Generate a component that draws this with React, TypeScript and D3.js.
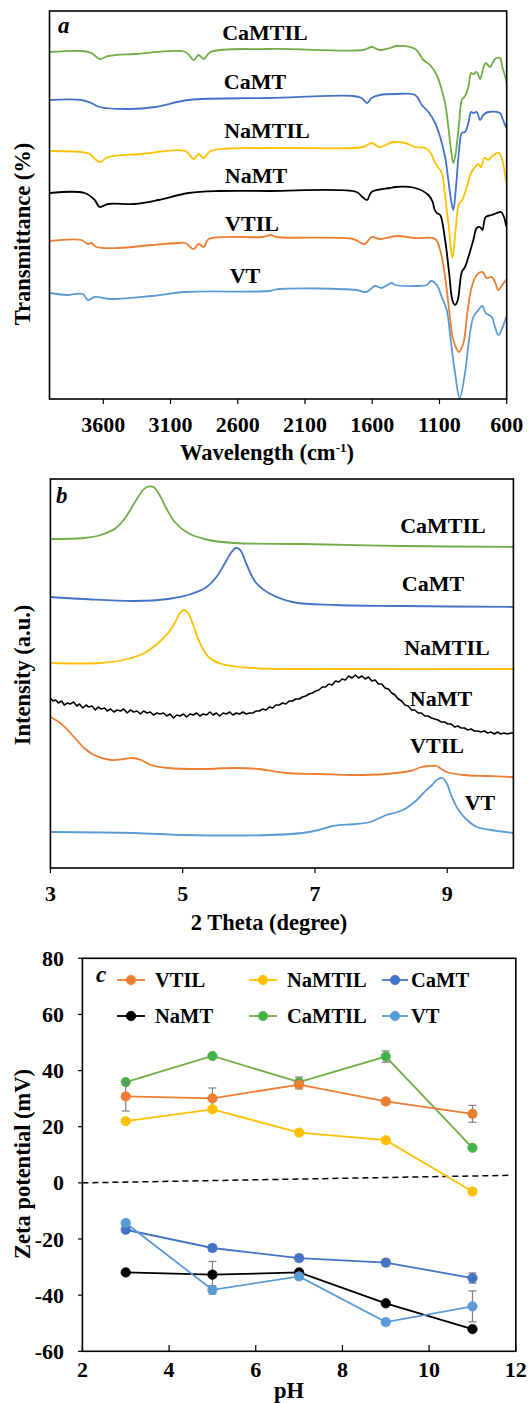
import React from "react";
import * as d3 from "d3";

// ---------- Panel a: FTIR (wavenumber, transmittance a.u.) ----------
const ftirCaMTIL = [[4000,347],[3764,348],[3689,346],[3627,340],[3564,343],[3365,345],[2990,347],[2928,339],[2891,344],[2853,340],[2803,347],[2367,350],[1668,349],[1605,352],[1543,349],[1468,351],[1418,353],[1281,350],[1219,339],[1170,334],[1120,324],[1083,309],[1058,296],[1034,272],[1014,249],[997,236],[979,246],[954,276],[934,299],[910,303],[885,312],[865,326],[848,325],[823,327],[798,320],[774,331],[756,336],[724,332],[687,340],[650,341],[633,332],[605,320],[600,316]];
const ftirCaMT = [[4000,299],[3764,299],[3689,296],[3627,292],[3403,290],[3215,292],[2965,299],[2367,301],[1743,303],[1680,301],[1638,296],[1605,301],[1543,304],[1429,305],[1281,304],[1231,294],[1182,287],[1132,276],[1095,262],[1058,242],[1034,219],[1014,199],[997,189],[979,209],[954,249],[934,266],[910,267],[885,276],[865,287],[848,286],[823,287],[798,279],[774,284],[737,287],[650,286],[633,281],[605,272],[600,271]];
const ftirNaMTIL = [[4000,248],[3764,247],[3702,245],[3627,237],[3564,242],[3315,245],[2990,248],[2928,240],[2891,245],[2853,241],[2803,248],[2367,251],[1668,252],[1605,256],[1543,252],[1444,257],[1355,256],[1281,252],[1207,251],[1170,247],[1132,236],[1083,226],[1063,209],[1046,189],[1030,172],[1004,141],[978,172],[955,195],[934,198],[897,212],[865,226],[835,232],[811,235],[791,232],[766,241],[737,239],[700,244],[657,246],[633,239],[605,219],[600,216]];
const ftirNaMT = [[4000,206],[3738,206],[3664,199],[3627,192],[3564,195],[3365,195],[3190,199],[2965,206],[2741,208],[2367,208],[1718,207],[1673,202],[1638,199],[1605,207],[1468,211],[1429,212],[1281,211],[1182,204],[1150,197],[1138,190],[1120,186],[1095,184],[1058,159],[1028,126],[1004,99],[984,94],[964,99],[934,127],[910,132],[885,142],[848,159],[823,171],[798,172],[781,169],[756,182],[711,184],[674,186],[642,187],[620,182],[605,174],[600,172]];
const ftirVTIL = [[4000,158],[3764,159],[3714,155],[3689,156],[3651,152],[3489,151],[3240,154],[3040,156],[2990,156],[2928,150],[2891,155],[2853,152],[2816,160],[2416,162],[2354,164],[2316,162],[1743,160],[1656,155],[1605,162],[1543,160],[1418,163],[1281,161],[1132,160],[1095,149],[1058,122],[1028,89],[997,59],[954,47],[922,56],[890,89],[860,112],[823,124],[781,127],[749,121],[711,122],[687,117],[662,109],[633,114],[605,119],[600,120]];
const ftirVT = [[4000,106],[3864,104],[3752,105],[3714,99],[3664,102],[3539,100],[3240,103],[2990,107],[2367,108],[2292,110],[1718,109],[1643,107],[1581,113],[1530,111],[1456,116],[1429,114],[1281,113],[1194,114],[1162,118],[1120,114],[1083,102],[1046,89],[1014,56],[984,26],[950,1],[910,26],[880,59],[848,82],[811,89],[781,93],[756,86],[711,82],[687,72],[662,64],[633,71],[605,81],[600,83]];
const ftirTicks = [3600, 3100, 2600, 2100, 1600, 1100, 600];

// ---------- Panel b: XRD (2theta, intensity a.u.) ----------
const xrdCaMTIL = [[3.0,329],[3.51,330],[3.76,333],[3.99,340],[4.14,351],[4.27,365],[4.40,378],[4.46,381],[4.56,381],[4.65,373],[4.75,360],[4.88,346],[5.08,335],[5.39,328],[5.79,325],[6.81,324],[8.33,322],[10.0,321]];
const xrdCaMT = [[3.0,271],[3.51,269],[4.27,267],[4.78,269],[5.08,273],[5.34,280],[5.51,291],[5.64,305],[5.74,316],[5.80,320],[5.87,318],[5.97,303],[6.10,286],[6.30,275],[6.66,266],[7.32,263],[8.33,262],[10.0,261]];
const xrdNaMTIL = [[3.0,205],[3.76,205],[4.17,209],[4.42,215],[4.63,225],[4.78,235],[4.88,245],[4.96,255],[5.02,258],[5.08,255],[5.16,243],[5.26,225],[5.39,211],[5.59,204],[6.05,200],[7.32,199],[10.0,199]];
const xrdNaMT = [[3.00,170],[3.04,167],[3.08,168],[3.12,165],[3.17,167],[3.21,163],[3.26,165],[3.30,164],[3.35,166],[3.40,162],[3.44,164],[3.49,160],[3.54,163],[3.58,161],[3.63,162],[3.68,158],[3.72,161],[3.77,159],[3.82,160],[3.86,157],[3.91,159],[3.96,156],[4.01,158],[4.06,157],[4.11,159],[4.16,155],[4.21,158],[4.26,156],[4.31,157],[4.36,154],[4.41,157],[4.46,155],[4.51,156],[4.56,153],[4.61,155],[4.66,154],[4.71,155],[4.76,152],[4.81,154],[4.86,150],[4.91,153],[4.96,152],[5.01,154],[5.06,151],[5.11,154],[5.16,153],[5.21,155],[5.26,152],[5.31,154],[5.36,153],[5.41,156],[5.46,153],[5.51,155],[5.56,152],[5.61,155],[5.66,154],[5.71,156],[5.76,153],[5.81,155],[5.86,154],[5.91,156],[5.96,154],[6.01,155],[6.06,155],[6.11,157],[6.16,157],[6.21,159],[6.26,158],[6.31,161],[6.36,160],[6.41,163],[6.46,163],[6.51,165],[6.56,164],[6.61,167],[6.66,167],[6.71,169],[6.76,169],[6.81,171],[6.86,172],[6.91,174],[6.96,175],[7.01,177],[7.06,178],[7.11,181],[7.16,181],[7.21,184],[7.26,183],[7.31,187],[7.36,186],[7.41,189],[7.46,188],[7.51,192],[7.56,190],[7.61,193],[7.66,190],[7.71,192],[7.76,189],[7.81,191],[7.86,187],[7.91,188],[7.96,184],[8.01,184],[8.06,180],[8.11,179],[8.16,175],[8.21,173],[8.26,169],[8.31,167],[8.36,163],[8.41,162],[8.46,158],[8.51,158],[8.56,155],[8.61,155],[8.66,152],[8.71,152],[8.76,150],[8.81,149],[8.86,148],[8.91,146],[8.96,146],[9.01,144],[9.06,144],[9.11,141],[9.16,142],[9.21,140],[9.26,140],[9.31,138],[9.36,139],[9.41,137],[9.46,137],[9.51,136],[9.56,137],[9.61,135],[9.66,136],[9.71,134],[9.76,136],[9.81,134],[9.86,135],[9.91,134],[9.96,135],[10.0,135]];
const xrdVTIL = [[3.0,151],[3.15,145],[3.33,133],[3.51,120],[3.66,113],[3.91,108],[4.12,109],[4.24,110],[4.37,108],[4.52,103],[4.78,100],[5.29,99],[5.79,100],[6.15,99],[6.56,95],[7.06,94],[7.57,93],[8.08,94],[8.44,97],[8.61,101],[8.72,102],[8.84,102],[8.89,100],[8.99,96],[9.25,93],[9.60,92],[10.0,91]];
const xrdVT = [[3.0,36],[4.27,35],[5.03,33],[6.30,33],[6.81,35],[7.06,38],[7.27,42],[7.62,44],[7.83,46],[8.08,53],[8.33,58],[8.54,68],[8.64,75],[8.77,83],[8.84,88],[8.93,90],[8.99,85],[9.07,71],[9.17,58],[9.30,48],[9.45,41],[9.66,38],[10.0,35]];
const xrdTicks = [3, 5, 7, 9];

// ---------- Panel c: zeta potential ----------
const pH = [3, 5, 7, 9, 11];
const zVTIL = [30.8, 30.1, 35.0, 29.0, 24.6];
const eVTIL = [5.2, 3.7, 1.5, 1.0, 3.0];
const zNaMTIL = [22.0, 26.2, 17.9, 15.2, -3.1];
const eNaMTIL = [0.8, 0.8, 0.8, 0.8, 0.8];
const zCaMT = [-16.7, -23.2, -26.8, -28.4, -33.9];
const eCaMT = [1.0, 1.2, 1.2, 1.2, 1.8];
const zNaMT = [-31.9, -32.7, -31.9, -42.9, -52.1];
const eNaMT = [0.5, 4.7, 0.5, 0.5, 0.5];
const zCaMTIL = [35.9, 45.2, 35.9, 45.0, 12.5];
const eCaMTIL = [0.5, 0.5, 1.8, 2.0, 0.5];
const zVT = [-14.3, -38.1, -33.3, -49.6, -44.0];
const eVT = [1.0, 1.5, 1.0, 1.0, 5.5];
const zeroLinePH = [2, 11.9];
const zeroLineV = [0, 2.7];
const zTicksX = [2, 4, 6, 8, 10, 12];
const zTicksY = [-60, -40, -20, 0, 20, 40, 60, 80];

const C = {
  green: "#70AD47", blue: "#4472C4", yellow: "#FFC000", black: "#000000",
  orange: "#ED7D31", lblue: "#5B9BD5",
};
const FONT = "Liberation Serif, Times New Roman, Times, serif";

export default function App() {
  const ax = d3.scaleLinear().domain([4000, 600]).range([49.5, 506.7]);
  const ay = d3.scaleLinear().domain([0, 388]).range([399, 11]);
  const aLine = d3.line<number[]>().x(d => ax(d[0])).y(d => ay(d[1])).curve(d3.curveCatmullRom.alpha(0.5));
  const bx = d3.scaleLinear().domain([3, 10]).range([50.4, 513.4]);
  const by = d3.scaleLinear().domain([0, 389]).range([868, 479]);
  const bLine = d3.line<number[]>().x(d => bx(d[0])).y(d => by(d[1])).curve(d3.curveCatmullRom.alpha(0.5));
  const bLineJag = d3.line<number[]>().x(d => bx(d[0])).y(d => by(d[1]));
  const cx = d3.scaleLinear().domain([2, 12]).range([82.4, 515.8]);
  const cy = d3.scaleLinear().domain([-60, 80]).range([1351.3, 958.3]);
  const cLine = d3.line<number>().x((_, i) => cx(pH[i])).y(d => cy(d));

  const ftir = [
    { d: ftirCaMTIL, c: C.green, name: "CaMTIL", lx: 265, ly: 40 },
    { d: ftirCaMT, c: C.blue, name: "CaMT", lx: 255, ly: 89 },
    { d: ftirNaMTIL, c: C.yellow, name: "NaMTIL", lx: 267, ly: 138 },
    { d: ftirNaMT, c: C.black, name: "NaMT", lx: 256, ly: 183 },
    { d: ftirVTIL, c: C.orange, name: "VTIL", lx: 252, ly: 231 },
    { d: ftirVT, c: C.lblue, name: "VT", lx: 245, ly: 283 },
  ];
  const xrd = [
    { d: xrdCaMTIL, c: C.green, name: "CaMTIL", lx: 443, ly: 533, jag: false },
    { d: xrdCaMT, c: C.blue, name: "CaMT", lx: 433, ly: 591, jag: false },
    { d: xrdNaMTIL, c: C.yellow, name: "NaMTIL", lx: 447, ly: 655, jag: false },
    { d: xrdNaMT, c: C.black, name: "NaMT", lx: 441, ly: 706, jag: true },
    { d: xrdVTIL, c: C.orange, name: "VTIL", lx: 437, ly: 753, jag: false },
    { d: xrdVT, c: C.lblue, name: "VT", lx: 480, ly: 810, jag: false },
  ];
  const zeta = [
    { v: zVTIL, e: eVTIL, c: C.orange, f: C.orange, name: "VTIL" },
    { v: zNaMTIL, e: eNaMTIL, c: C.yellow, f: C.yellow, name: "NaMTIL" },
    { v: zCaMT, e: eCaMT, c: C.blue, f: C.blue, name: "CaMT" },
    { v: zNaMT, e: eNaMT, c: C.black, f: C.black, name: "NaMT" },
    { v: zCaMTIL, e: eCaMTIL, c: C.green, f: "#3DB54A", name: "CaMTIL" },
    { v: zVT, e: eVT, c: C.lblue, f: C.lblue, name: "VT" },
  ];
  const drawOrder = [4, 0, 1, 2, 3, 5];
  // legend layout: [line start, line end, marker x, text x]
  const legendCols = [[117, 145, 131, 155], [249, 277, 263, 287], [382, 408, 395, 411]];
  const legendRows = [980, 1016];

  const txt = { fontFamily: FONT, fontWeight: 700 as const, fontSize: 22, fill: "#000" };
  const ttl = { ...txt, fontSize: 22.5 };
  const lgd = { ...txt, fontSize: 20.5 };

  return (
    <svg width={528} height={1403} style={{ position: "absolute", left: 0, top: 0, background: "#fff" }}>
      <defs>
        <clipPath id="clipA"><rect x={49.5} y={11} width={457.2} height={388} /></clipPath>
        <clipPath id="clipB"><rect x={50.4} y={479} width={463} height={389} /></clipPath>
      </defs>
      <rect x={0} y={0} width={528} height={1403} fill="#fff" />

      {/* ---------------- Panel a ---------------- */}
      <g clipPath="url(#clipA)">
        {ftir.map(s => (
          <path key={s.name} d={aLine(s.d) || ""} fill="none" stroke={s.c} strokeWidth={1.8} strokeLinejoin="round" />
        ))}
      </g>
      <rect x={49.5} y={11} width={457.2} height={388} fill="none" stroke="#000" strokeWidth={1.6} />
      {ftirTicks.map(t => (
        <g key={t}>
          <line x1={ax(t)} x2={ax(t)} y1={399} y2={404} stroke="#000" strokeWidth={1.2} />
          <text x={ax(t)} y={432} textAnchor="middle" style={txt}>{t}</text>
        </g>
      ))}
      {ftir.map(s => (
        <text key={s.name} x={s.lx} y={s.ly} textAnchor="middle" style={txt}>{s.name}</text>
      ))}
      <text x={58} y={33} style={{ ...txt, fontStyle: "italic", fontSize: 23 }}>a</text>
      <text x={267} y={460} textAnchor="middle" style={ttl}>
        Wavelength (cm<tspan dy={-8} fontSize={13}>-1</tspan><tspan dy={8}>)</tspan>
      </text>
      <text transform="translate(30,234) rotate(-90)" textAnchor="middle" style={ttl}>Transmittance (%)</text>

      {/* ---------------- Panel b ---------------- */}
      <g clipPath="url(#clipB)">
        {xrd.map(s => (
          <path key={s.name} d={(s.jag ? bLineJag(s.d) : bLine(s.d)) || ""} fill="none" stroke={s.c}
            strokeWidth={s.jag ? 1.6 : 1.8} strokeLinejoin="round" />
        ))}
      </g>
      <rect x={50.4} y={479} width={463} height={389} fill="none" stroke="#000" strokeWidth={1.6} />
      {xrdTicks.map(t => (
        <g key={t}>
          <line x1={bx(t)} x2={bx(t)} y1={868} y2={873} stroke="#000" strokeWidth={1.2} />
          <text x={bx(t)} y={901} textAnchor="middle" style={txt}>{t}</text>
        </g>
      ))}
      {xrd.map(s => (
        <text key={s.name} x={s.lx} y={s.ly} textAnchor="middle" style={txt}>{s.name}</text>
      ))}
      <text x={56} y={503} style={{ ...txt, fontStyle: "italic", fontSize: 23 }}>b</text>
      <text x={269} y={930} textAnchor="middle" style={ttl}>2 Theta (degree)</text>
      <text transform="translate(30,675) rotate(-90)" textAnchor="middle" style={ttl}>Intensity (a.u.)</text>

      {/* ---------------- Panel c ---------------- */}
      <rect x={82.4} y={958.3} width={433.4} height={393} fill="none" stroke="#000" strokeWidth={1.6} />
      {zTicksY.map(t => (
        <g key={t}>
          <line x1={78} x2={82.4} y1={cy(t)} y2={cy(t)} stroke="#000" strokeWidth={1.2} />
          <text x={64} y={cy(t) + 7.5} textAnchor="end" style={txt}>{t}</text>
        </g>
      ))}
      {zTicksX.map(t => (
        <g key={t}>
          <line x1={cx(t)} x2={cx(t)} y1={1351.3} y2={1345} stroke="#000" strokeWidth={1.2} />
          <text x={cx(t)} y={1377} textAnchor="middle" style={txt}>{t}</text>
        </g>
      ))}
      <line x1={cx(zeroLinePH[0])} y1={cy(zeroLineV[0])} x2={cx(zeroLinePH[1])} y2={cy(zeroLineV[1])}
        stroke="#000" strokeWidth={1.5} strokeDasharray="6,4" />
      {drawOrder.map(i => {
        const s = zeta[i];
        return (
          <g key={s.name}>
            <path d={cLine(s.v) || ""} fill="none" stroke={s.c} strokeWidth={1.8} />
            {s.v.map((v, j) => (
              <g key={j} stroke="#7F7F7F" strokeWidth={1.2}>
                <line x1={cx(pH[j])} x2={cx(pH[j])} y1={cy(v + s.e[j])} y2={cy(v - s.e[j])} />
                <line x1={cx(pH[j]) - 4} x2={cx(pH[j]) + 4} y1={cy(v + s.e[j])} y2={cy(v + s.e[j])} />
                <line x1={cx(pH[j]) - 4} x2={cx(pH[j]) + 4} y1={cy(v - s.e[j])} y2={cy(v - s.e[j])} />
              </g>
            ))}
            {s.v.map((v, j) => (
              <circle key={"m" + j} cx={cx(pH[j])} cy={cy(v)} r={4.7} fill={s.f} stroke={s.c} strokeWidth={0.8} />
            ))}
          </g>
        );
      })}
      {zeta.map((s, i) => {
        const col = legendCols[i % 3];
        const y0 = legendRows[Math.floor(i / 3)];
        return (
          <g key={"lg" + s.name}>
            <line x1={col[0]} x2={col[1]} y1={y0} y2={y0} stroke={s.c} strokeWidth={1.8} />
            <circle cx={col[2]} cy={y0} r={4.7} fill={s.f} stroke={s.c} strokeWidth={0.8} />
            <text x={col[3]} y={y0 + 7} style={lgd}>{s.name}</text>
          </g>
        );
      })}
      <text x={96} y={982} style={{ ...txt, fontStyle: "italic", fontSize: 23 }}>c</text>
      <text x={289} y={1398} textAnchor="middle" style={ttl}>pH</text>
      <text transform="translate(30,1164) rotate(-90)" textAnchor="middle" style={ttl}>Zeta potential (mV)</text>
    </svg>
  );
}
